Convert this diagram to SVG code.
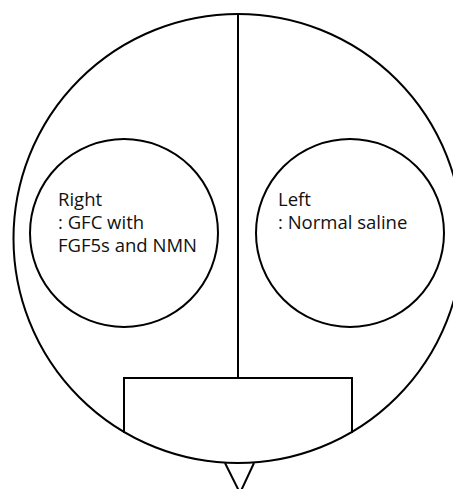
<svg xmlns="http://www.w3.org/2000/svg" width="453" height="489" viewBox="0 0 453 489">
<style>
.s{fill:none;stroke:#000;stroke-width:2}
.t{font-family:"Open Sans","Noto Sans",sans-serif;font-size:18.5px;fill:#111}
</style>
<rect width="453" height="489" fill="#fff"/>
<g id="outer"><circle class="s" cx="238" cy="238.5" r="224.5"/></g>
<g id="connectors">
<line class="s" x1="238" y1="14" x2="238" y2="379"/>
<polyline class="s" points="124,433 124,378 352,378 352,433"/>
<polyline class="s" points="225,463 240,493 254,463"/>
</g>
<g id="right-node">
<circle class="s" cx="124" cy="233" r="94"/>
<text class="t" x="58" y="206">Right</text>
<text class="t" x="58" y="229">: GFC with</text>
<text class="t" x="58" y="252">FGF5s and NMN</text>
</g>
<g id="left-node">
<circle class="s" cx="350" cy="233" r="94"/>
<text class="t" x="278" y="206">Left</text>
<text class="t" x="278" y="229">: Normal saline</text>
</g>
</svg>
